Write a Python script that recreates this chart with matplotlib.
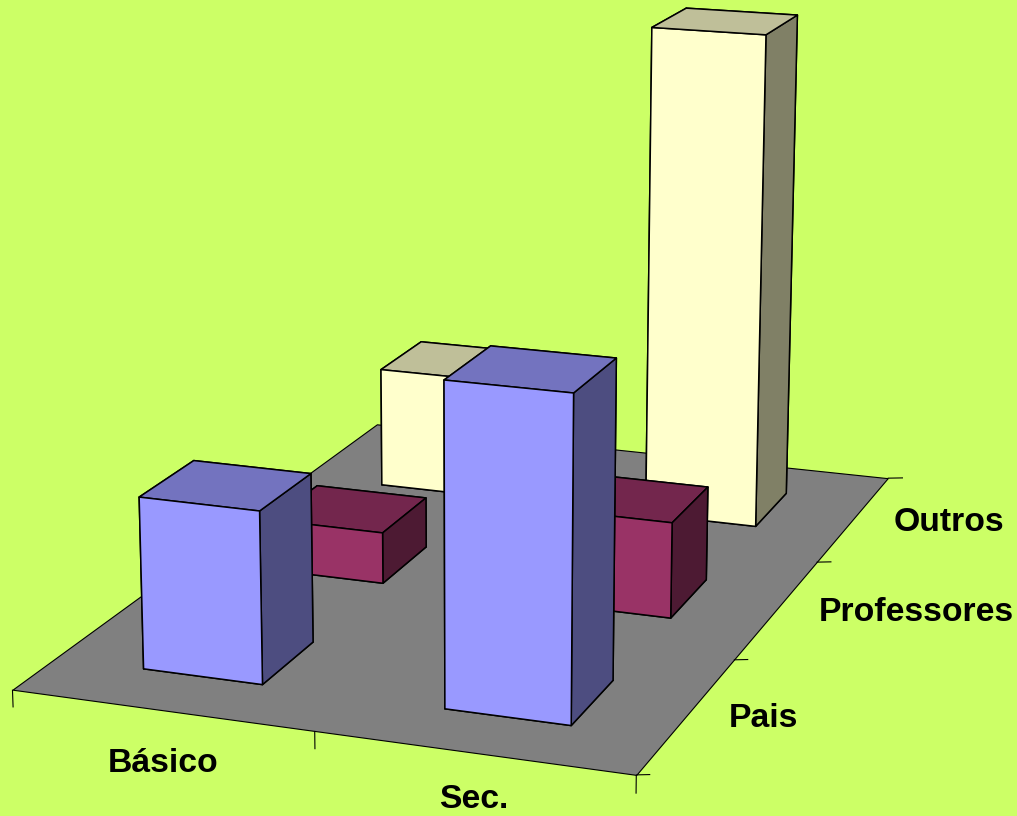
import numpy as np
import matplotlib
matplotlib.use("Agg")
import matplotlib.pyplot as plt
from mpl_toolkits.mplot3d.art3d import Poly3DCollection, Line3DCollection

# Data
levels = ["Básico", "Sec."]
groups = ["Pais", "Professores", "Outros"]
pais = [9.66, 17.79]
professores = [3.04, 5.59]
outros = [7.47, 30.0]

W, H = 1017, 816
BG = "#CCFF66"
plt.rcParams["font.family"] = ["Liberation Sans", "DejaVu Sans"]
fig = plt.figure(figsize=(W/100, H/100), dpi=100, facecolor=BG)
L, l, b = 1186.73, -121.07, -117.51
ax = fig.add_axes([l/W, b/H, L/W, L/H], projection="3d")
ax.patch.set_alpha(0)
ax.set_axis_off()
ax.computed_zorder = False
ax.set_xlim(0, 2); ax.set_ylim(0, 3); ax.set_zlim(0, 30)
ax.view_init(elev=15.0098, azim=-70.0906, roll=-0.0384)
ax.set_proj_type("persp", focal_length=float(np.exp(-0.5841)))
ax.set_box_aspect((1.0, float(np.exp(0.412)), float(np.exp(-0.1404))))

nx, ny = len(levels), len(groups)
floor = [[(0, 0, 0), (nx, 0, 0), (nx, ny, 0), (0, ny, 0)]]
ax.add_collection3d(Poly3DCollection(floor, facecolors="#808080", edgecolors="black",
                                     linewidths=0.8, zorder=1))
# category ticks hang straight down on the screen, group ticks run horizontally to the right
xt = [[(i, 0, 0), (i, 0, -1.0)] for i in range(nx + 1)]
yt = [[(nx, j, 0), (nx + 0.037 * (1 + 0.13 * j), j + 0.016 * (1 + 0.13 * j), 0)] for j in range(ny + 1)]
ax.add_collection3d(Line3DCollection(xt + yt, colors="black", linewidths=0.8, zorder=1.5))

half_w, half_d = 0.2009, 0.2002
series = [(outros, 2, (255, 255, 204)), (professores, 1, (153, 51, 102)), (pais, 0, (153, 153, 255))]
z = 2
for vals, j, rgb in series:
    c = np.array(rgb) / 255
    for i, h in enumerate(vals):
        # faces: bottom, top, front, back, left, right
        cols = [c * .5, c * .75, c, c * .5, c * .5, c * .5]
        ax.bar3d(i + .5 - half_w, j + .5 - half_d, 0, 2 * half_w, 2 * half_d, h,
                 color=cols, edgecolor="black", linewidth=1.1, shade=False, zorder=z)
        z += 1

style = dict(fontsize=24.3, fontweight="bold", color="black", ha="center", va="baseline")
label_xy = {"Básico": (163, 771.5), "Sec.": (474, 808.5), "Pais": (763, 727),
            "Professores": (916, 621), "Outros": (949, 531)}
for t, (x, y) in label_xy.items():
    fig.text(x / W, 1 - y / H, t, **style)

fig.savefig("out.png", dpi=100, facecolor=BG)
